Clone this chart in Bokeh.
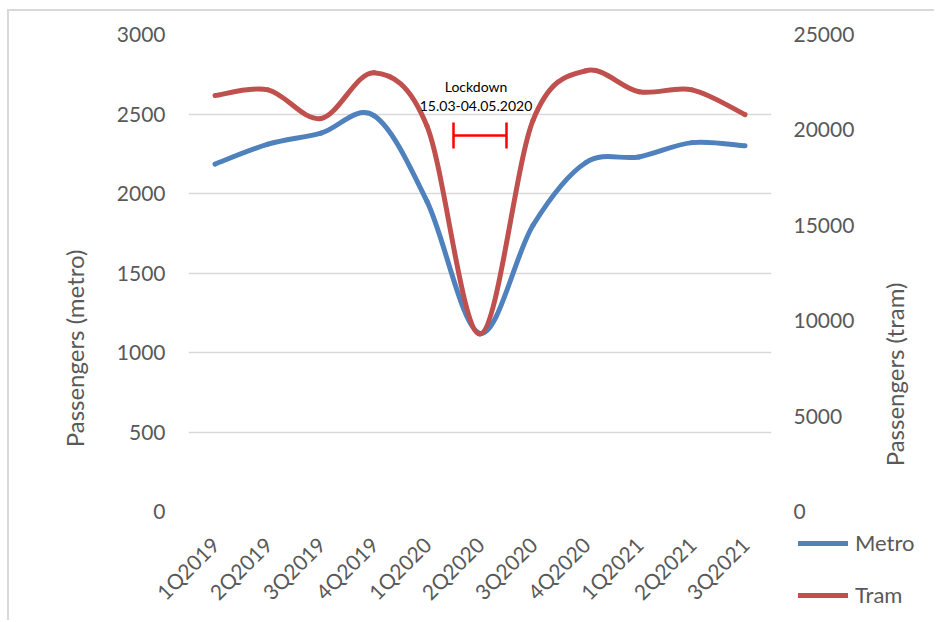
import numpy as np
from bokeh.plotting import figure
from bokeh.models import (Range1d, LinearAxis, FixedTicker, Legend, LegendItem,
                          Whisker, TeeHead, ColumnDataSource)
from bokeh.core.properties import value
from bokeh.embed import file_html
from bokeh.resources import INLINE

# Quarterly passenger counts
quarters = ["1Q2019", "2Q2019", "3Q2019", "4Q2019", "1Q2020", "2Q2020",
            "3Q2020", "4Q2020", "1Q2021", "2Q2021", "3Q2021"]
metro = [2185, 2310, 2380, 2490, 1950, 1120, 1800, 2195, 2230, 2320, 2300]
tram = [21800, 22100, 20600, 23000, 20200, 9300, 20500, 23100, 22000, 22100, 20800]

metro_ticks = [0, 500, 1000, 1500, 2000, 2500, 3000]
tram_ticks = [0, 5000, 10000, 15000, 20000, 25000]

metro_title = "Passengers (metro)"
tram_title = "Passengers (tram)"

lockdown_text = ["Lockdown", "15.03-04.05.2020"]
lockdown_from, lockdown_to = 4.5, 5.5   # mid-1Q2020 .. mid-2Q2020
lockdown_level = 2365                    # on the metro axis

PAGE_W, PAGE_H = 936, 622
FONT = "Lato"
GREY = "#595959"
BLUE = "#4F81BD"
RED = "#C0504D"


def smooth_segments(ys, k=1.0 / 6.0):
    """Cubic Bezier segments through the points (Catmull-Rom style)."""
    ys = np.asarray(ys, dtype=float)
    xs = np.arange(len(ys), dtype=float)
    n = len(xs)
    px = np.concatenate([[xs[0]], xs, [xs[-1]]])
    py = np.concatenate([[ys[0]], ys, [ys[-1]]])
    return dict(
        x0=xs[:-1], y0=ys[:-1], x1=xs[1:], y1=ys[1:],
        cx0=xs[:-1] + (px[2:n + 1] - px[0:n - 1]) * k,
        cy0=ys[:-1] + (py[2:n + 1] - py[0:n - 1]) * k,
        cx1=xs[1:] - (px[3:n + 2] - px[1:n]) * k,
        cy1=ys[1:] - (py[3:n + 2] - py[1:n]) * k,
    )


def style_axis(ax, standoff):
    ax.axis_line_color = None
    ax.major_tick_line_color = None
    ax.minor_tick_line_color = None
    ax.major_tick_out = 0
    ax.major_tick_in = 0
    ax.minor_tick_out = 0
    ax.major_label_text_font = FONT
    ax.major_label_text_color = GREY
    ax.major_label_standoff = standoff


# ---- main chart -----------------------------------------------------------
p = figure(width=927, height=611, output_backend="svg", toolbar_location=None,
           x_range=Range1d(-0.5, len(quarters) - 0.5),
           y_range=Range1d(0, 3000),
           min_border_left=179, min_border_right=165,
           min_border_top=23, min_border_bottom=111,
           styles={"margin-left": "7px", "margin-top": "9px",
                   "border-left": "2px solid #D9D9D9",
                   "border-top": "2px solid #D9D9D9"})
p.extra_y_ranges = {"tram": Range1d(0, 25000)}
p.outline_line_color = None
p.background_fill_color = "white"
p.border_fill_color = "white"

xa = p.xaxis[0]
xa.ticker = FixedTicker(ticks=list(range(len(quarters))))
xa.major_label_overrides = {i: q for i, q in enumerate(quarters)}
xa.major_label_orientation = np.pi / 4
style_axis(xa, 29)
xa.major_label_text_font_size = "21px"

ya = p.yaxis[0]
ya.ticker = FixedTicker(ticks=metro_ticks)
style_axis(ya, 23)
ya.major_label_text_font_size = "21px"

ra = LinearAxis(y_range_name="tram", ticker=FixedTicker(ticks=tram_ticks))
style_axis(ra, 22)
ra.major_label_text_font_size = "21px"
p.add_layout(ra, "right")

p.xgrid.grid_line_color = None
p.ygrid.ticker = FixedTicker(ticks=metro_ticks)
p.ygrid.grid_line_color = "#D9D9D9"
p.ygrid.grid_line_width = 1.3

bez = dict(x0="x0", y0="y0", x1="x1", y1="y1",
           cx0="cx0", cy0="cy0", cx1="cx1", cy1="cy1",
           line_width=5, line_cap="round")
p.bezier(source=ColumnDataSource(smooth_segments(metro)), line_color=BLUE, **bez)
p.bezier(source=ColumnDataSource(smooth_segments(tram)), line_color=RED,
         y_range_name="tram", **bez)

# lockdown marker
tee = dict(size=26, line_color="#FF0000", line_width=2.5)
p.add_layout(Whisker(dimension="width", base=lockdown_level,
                     lower=lockdown_from, upper=lockdown_to,
                     line_color="#FF0000", line_width=2.5,
                     lower_head=TeeHead(**tee), upper_head=TeeHead(**tee)))
mid = (lockdown_from + lockdown_to) / 2
p.text(x=[mid, mid], y=[lockdown_level, lockdown_level], text=lockdown_text,
       x_offset=-4, y_offset=[-49, -29],
       text_font=value(FONT), text_font_size="14px", text_color="black",
       text_align="center", text_baseline="alphabetic")

# ---- overlay in page pixels: axis titles and the legend ---------------------
ov = figure(width=PAGE_W, height=PAGE_H, output_backend="svg", toolbar_location=None,
            x_range=Range1d(0, PAGE_W), y_range=Range1d(0, PAGE_H),
            x_axis_type=None, y_axis_type=None, min_border=0,
            styles={"position": "absolute", "left": "0px", "top": "0px",
                    "pointer-events": "none"})
ov.grid.visible = False
ov.outline_line_color = None
ov.background_fill_alpha = 0
ov.border_fill_alpha = 0

ov.text(x=[74, 894], y=[PAGE_H - 348, PAGE_H - 374], text=[metro_title, tram_title],
        angle=np.pi / 2, text_align="center", text_baseline="middle",
        text_font=value(FONT), text_font_size="24px", text_color=GREY)

# legend keys: line renderers parked outside the overlay's visible range
off = [-50, -40]
metro_key = ov.line(x=off, y=off, line_color=BLUE, line_width=5, line_cap="round")
tram_key = ov.line(x=off, y=off, line_color=RED, line_width=5, line_cap="round")
legend = Legend(items=[LegendItem(label="Metro", renderers=[metro_key]),
                       LegendItem(label="Tram", renderers=[tram_key])],
                location=(798, 14), padding=0, margin=0, spacing=25,
                glyph_width=50, glyph_height=20, label_height=20,
                label_standoff=7, border_line_color=None,
                background_fill_alpha=0,
                label_text_font=FONT, label_text_font_size="22px",
                label_text_color=GREY)
ov.add_layout(legend, "center")

open("out.html", "w").write(file_html([p, ov], INLINE))
